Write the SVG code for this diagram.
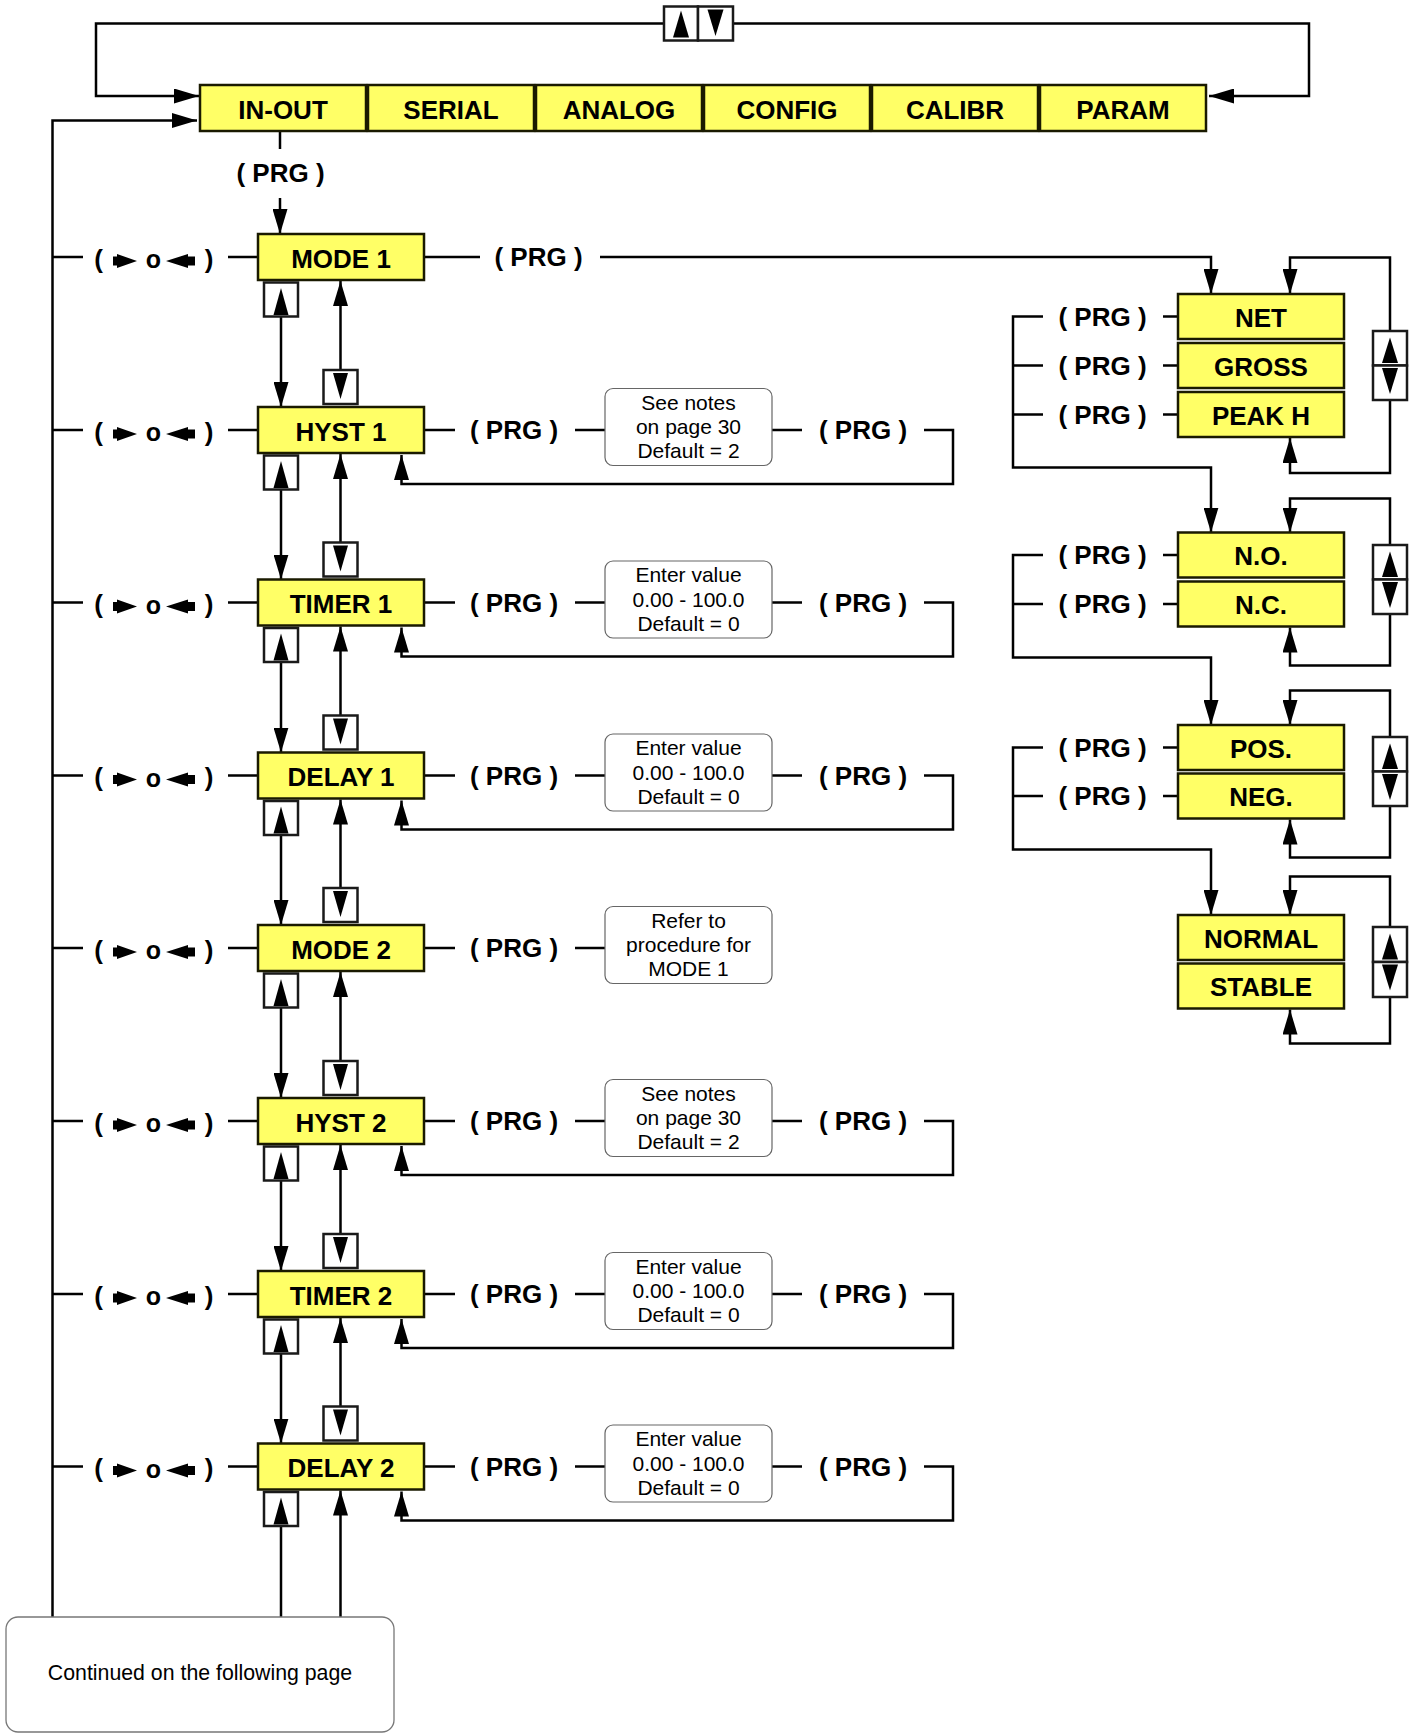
<svg xmlns="http://www.w3.org/2000/svg" width="1416" height="1733" viewBox="0 0 1416 1733">
<style>
.bg{fill:#ffffff}
.node{fill:#ffff66;stroke:#1a1a00;stroke-width:2.5}
.btn{fill:#ffffff;stroke:#1a1a1a;stroke-width:2.5}
.note{fill:#ffffff;stroke:#666666;stroke-width:1.2}
.cont{fill:#ffffff;stroke:#777777;stroke-width:1.3}
.ln{fill:none;stroke:#000000;stroke-width:2.5}
.ar{fill:none;stroke:#000000;stroke-width:2.5;marker-end:url(#ah)}
.tri{fill:#000000}
.lbl{font-family:"Liberation Sans",Arial,sans-serif;font-weight:bold;font-size:26px;text-anchor:middle;fill:#000}
.prg{font-family:"Liberation Sans",Arial,sans-serif;font-weight:bold;font-size:26px;text-anchor:middle;fill:#000}
.sym{font-family:"Liberation Sans",Arial,sans-serif;font-weight:bold;font-size:26px;text-anchor:middle;fill:#000}
.o{font-family:"Liberation Sans",Arial,sans-serif;font-weight:bold;font-size:25px;text-anchor:middle;fill:#000}
.nt{font-family:"Liberation Sans",Arial,sans-serif;font-size:21px;text-anchor:middle;fill:#000}
.ct{font-family:"Liberation Sans",Arial,sans-serif;font-size:21.3px;text-anchor:middle;fill:#000}
</style>
<defs>
<marker id="ah" markerUnits="userSpaceOnUse" markerWidth="25" markerHeight="15" viewBox="0 0 25 15" refX="25" refY="7.5" orient="auto"><path d="M0,0 L25,7.5 L0,15 z" fill="#000"/></marker>
</defs>
<rect class="bg" x="0" y="0" width="1416" height="1733"/>

<g id="connectors">
<path class="ar" d="M664,23.5 H96 V96 H199"/>
<path class="ar" d="M734,23.5 H1309 V96 H1209"/>
<path class="ar" d="M52.5,1617 V120.5 H197"/>
<path class="ln" d="M280,131 V149"/>
<path class="ar" d="M280,198 V234"/>
<path class="ln" d="M52.5,257 H83 M228,257 H258"/>
<path class="ln" d="M52.5,430 H83 M228,430 H258"/>
<path class="ln" d="M52.5,602.5 H83 M228,602.5 H258"/>
<path class="ln" d="M52.5,775.5 H83 M228,775.5 H258"/>
<path class="ln" d="M52.5,948 H83 M228,948 H258"/>
<path class="ln" d="M52.5,1121 H83 M228,1121 H258"/>
<path class="ln" d="M52.5,1294 H83 M228,1294 H258"/>
<path class="ln" d="M52.5,1466.5 H83 M228,1466.5 H258"/>
<path class="ar" d="M281,316.5 V407"/>
<path class="ar" d="M340.5,370 V281"/>
<path class="ar" d="M281,489.5 V579.5"/>
<path class="ar" d="M340.5,542.5 V454"/>
<path class="ar" d="M281,662 V752.5"/>
<path class="ar" d="M340.5,715.5 V626.5"/>
<path class="ar" d="M281,835 V925"/>
<path class="ar" d="M340.5,888 V799.5"/>
<path class="ar" d="M281,1007.5 V1098"/>
<path class="ar" d="M340.5,1061 V972"/>
<path class="ar" d="M281,1180.5 V1271"/>
<path class="ar" d="M340.5,1234 V1145"/>
<path class="ar" d="M281,1353.5 V1443.5"/>
<path class="ar" d="M340.5,1406.5 V1318"/>
<path class="ln" d="M281,1526 V1617"/>
<path class="ar" d="M340.5,1617 V1490.5"/>
<path class="ln" d="M424,257 H480"/>
<path class="ar" d="M600,257 H1211 V294"/>
<path class="ln" d="M424,430 H455 M575,430 H605 M772,430 H802"/>
<path class="ar" d="M924,430 H953 V484 H401.5 V455"/>
<path class="ln" d="M424,602.5 H455 M575,602.5 H605 M772,602.5 H802"/>
<path class="ar" d="M924,602.5 H953 V656.5 H401.5 V627.5"/>
<path class="ln" d="M424,775.5 H455 M575,775.5 H605 M772,775.5 H802"/>
<path class="ar" d="M924,775.5 H953 V829.5 H401.5 V800.5"/>
<path class="ln" d="M424,948 H455 M575,948 H605"/>
<path class="ln" d="M424,1121 H455 M575,1121 H605 M772,1121 H802"/>
<path class="ar" d="M924,1121 H953 V1175 H401.5 V1146"/>
<path class="ln" d="M424,1294 H455 M575,1294 H605 M772,1294 H802"/>
<path class="ar" d="M924,1294 H953 V1348 H401.5 V1319"/>
<path class="ln" d="M424,1466.5 H455 M575,1466.5 H605 M772,1466.5 H802"/>
<path class="ar" d="M924,1466.5 H953 V1520.5 H401.5 V1491.5"/>
<path class="ar" d="M1043,316.5 H1013 V467.5 H1211 V532.5"/>
<path class="ln" d="M1013,365.5 H1043 M1013,414.5 H1043 M1163,316.5 H1178 M1163,365.5 H1178 M1163,414.5 H1178"/>
<path class="ar" d="M1043,555 H1013 V657.5 H1211 V725"/>
<path class="ln" d="M1013,604 H1043 M1163,555 H1178 M1163,604 H1178"/>
<path class="ar" d="M1043,747.5 H1013 V849.5 H1211 V915"/>
<path class="ln" d="M1013,796 H1043 M1163,747.5 H1178 M1163,796 H1178"/>
<path class="ar" d="M1390,331 V257.5 H1290 V294"/>
<path class="ar" d="M1390,400 V473 H1290 V438"/>
<path class="ar" d="M1390,545 V498.5 H1290 V532.5"/>
<path class="ar" d="M1390,614 V665.5 H1290 V627.5"/>
<path class="ar" d="M1390,737 V690.5 H1290 V725"/>
<path class="ar" d="M1390,806 V857.5 H1290 V819.5"/>
<path class="ar" d="M1390,927 V876.5 H1290 V915"/>
<path class="ar" d="M1390,997 V1043.5 H1290 V1009.5"/>
</g>

<g id="top-buttons">
<rect class="btn" x="664" y="6.5" width="34" height="34"/>
<rect class="btn" x="698" y="6.5" width="35" height="34"/>
<polygon class="tri" points="681,10.5 689,37.5 673,37.5"/>
<polygon class="tri" points="715.5,36 723.5,9.5 707.5,9.5"/>
</g>

<g id="menu">
<g id="in-out"><rect class="node" x="200" y="85" width="166" height="46"/><text class="lbl" x="283" y="118.5">IN-OUT</text></g>
<g id="serial"><rect class="node" x="368" y="85" width="166" height="46"/><text class="lbl" x="451" y="118.5">SERIAL</text></g>
<g id="analog"><rect class="node" x="536" y="85" width="166" height="46"/><text class="lbl" x="619" y="118.5">ANALOG</text></g>
<g id="config"><rect class="node" x="704" y="85" width="166" height="46"/><text class="lbl" x="787" y="118.5">CONFIG</text></g>
<g id="calibr"><rect class="node" x="872" y="85" width="166" height="46"/><text class="lbl" x="955" y="118.5">CALIBR</text></g>
<g id="param"><rect class="node" x="1040" y="85" width="166" height="46"/><text class="lbl" x="1123" y="118.5">PARAM</text></g>
</g>
<text class="prg" x="280.5" y="182">( PRG )</text>

<g id="sym-rows">
<g><text class="sym" x="98.5" y="267.5">(</text><polygon class="tri" points="113,256.5 117,256.5 117,254 137,261 117,268 117,265.5 113,265.5"/><text class="o" x="153.5" y="268">o</text><polygon class="tri" points="166,261 188,254 188,256.5 195,256.5 195,265.5 188,265.5 188,268"/><text class="sym" x="209" y="267.5">)</text></g>
<g><text class="sym" x="98.5" y="440.5">(</text><polygon class="tri" points="113,429.5 117,429.5 117,427 137,434 117,441 117,438.5 113,438.5"/><text class="o" x="153.5" y="441">o</text><polygon class="tri" points="166,434 188,427 188,429.5 195,429.5 195,438.5 188,438.5 188,441"/><text class="sym" x="209" y="440.5">)</text></g>
<g><text class="sym" x="98.5" y="613">(</text><polygon class="tri" points="113,602 117,602 117,599.5 137,606.5 117,613.5 117,611 113,611"/><text class="o" x="153.5" y="613.5">o</text><polygon class="tri" points="166,606.5 188,599.5 188,602 195,602 195,611 188,611 188,613.5"/><text class="sym" x="209" y="613">)</text></g>
<g><text class="sym" x="98.5" y="786">(</text><polygon class="tri" points="113,775 117,775 117,772.5 137,779.5 117,786.5 117,784 113,784"/><text class="o" x="153.5" y="786.5">o</text><polygon class="tri" points="166,779.5 188,772.5 188,775 195,775 195,784 188,784 188,786.5"/><text class="sym" x="209" y="786">)</text></g>
<g><text class="sym" x="98.5" y="958.5">(</text><polygon class="tri" points="113,947.5 117,947.5 117,945 137,952 117,959 117,956.5 113,956.5"/><text class="o" x="153.5" y="959">o</text><polygon class="tri" points="166,952 188,945 188,947.5 195,947.5 195,956.5 188,956.5 188,959"/><text class="sym" x="209" y="958.5">)</text></g>
<g><text class="sym" x="98.5" y="1131.5">(</text><polygon class="tri" points="113,1120.5 117,1120.5 117,1118 137,1125 117,1132 117,1129.5 113,1129.5"/><text class="o" x="153.5" y="1132">o</text><polygon class="tri" points="166,1125 188,1118 188,1120.5 195,1120.5 195,1129.5 188,1129.5 188,1132"/><text class="sym" x="209" y="1131.5">)</text></g>
<g><text class="sym" x="98.5" y="1304.5">(</text><polygon class="tri" points="113,1293.5 117,1293.5 117,1291 137,1298 117,1305 117,1302.5 113,1302.5"/><text class="o" x="153.5" y="1305">o</text><polygon class="tri" points="166,1298 188,1291 188,1293.5 195,1293.5 195,1302.5 188,1302.5 188,1305"/><text class="sym" x="209" y="1304.5">)</text></g>
<g><text class="sym" x="98.5" y="1477">(</text><polygon class="tri" points="113,1466 117,1466 117,1463.5 137,1470.5 117,1477.5 117,1475 113,1475"/><text class="o" x="153.5" y="1477.5">o</text><polygon class="tri" points="166,1470.5 188,1463.5 188,1466 195,1466 195,1475 188,1475 188,1477.5"/><text class="sym" x="209" y="1477">)</text></g>
</g>

<g id="col-buttons">
<rect class="btn" x="264" y="282.5" width="34" height="34"/><polygon class="tri" points="281,288 288.5,315 273.5,315"/>
<rect class="btn" x="323.5" y="370" width="34" height="34"/><polygon class="tri" points="340.5,399 348,373 333,373"/>
<rect class="btn" x="264" y="455.5" width="34" height="34"/><polygon class="tri" points="281,461 288.5,488 273.5,488"/>
<rect class="btn" x="323.5" y="542.5" width="34" height="34"/><polygon class="tri" points="340.5,571.5 348,545.5 333,545.5"/>
<rect class="btn" x="264" y="628" width="34" height="34"/><polygon class="tri" points="281,633.5 288.5,660.5 273.5,660.5"/>
<rect class="btn" x="323.5" y="715.5" width="34" height="34"/><polygon class="tri" points="340.5,744.5 348,718.5 333,718.5"/>
<rect class="btn" x="264" y="801" width="34" height="34"/><polygon class="tri" points="281,806.5 288.5,833.5 273.5,833.5"/>
<rect class="btn" x="323.5" y="888" width="34" height="34"/><polygon class="tri" points="340.5,917 348,891 333,891"/>
<rect class="btn" x="264" y="973.5" width="34" height="34"/><polygon class="tri" points="281,979 288.5,1006 273.5,1006"/>
<rect class="btn" x="323.5" y="1061" width="34" height="34"/><polygon class="tri" points="340.5,1090 348,1064 333,1064"/>
<rect class="btn" x="264" y="1146.5" width="34" height="34"/><polygon class="tri" points="281,1152 288.5,1179 273.5,1179"/>
<rect class="btn" x="323.5" y="1234" width="34" height="34"/><polygon class="tri" points="340.5,1263 348,1237 333,1237"/>
<rect class="btn" x="264" y="1319.5" width="34" height="34"/><polygon class="tri" points="281,1325 288.5,1352 273.5,1352"/>
<rect class="btn" x="323.5" y="1406.5" width="34" height="34"/><polygon class="tri" points="340.5,1435.5 348,1409.5 333,1409.5"/>
<rect class="btn" x="264" y="1492" width="34" height="34"/><polygon class="tri" points="281,1497.5 288.5,1524.5 273.5,1524.5"/>
</g>

<g id="mode1"><rect class="node" x="258" y="234" width="166" height="46"/><text class="lbl" x="341" y="267.5">MODE 1</text></g>
<g id="hyst1"><rect class="node" x="258" y="407" width="166" height="46"/><text class="lbl" x="341" y="440.5">HYST 1</text></g>
<g id="timer1"><rect class="node" x="258" y="579.5" width="166" height="46"/><text class="lbl" x="341" y="613">TIMER 1</text></g>
<g id="delay1"><rect class="node" x="258" y="752.5" width="166" height="46"/><text class="lbl" x="341" y="786">DELAY 1</text></g>
<g id="mode2"><rect class="node" x="258" y="925" width="166" height="46"/><text class="lbl" x="341" y="958.5">MODE 2</text></g>
<g id="hyst2"><rect class="node" x="258" y="1098" width="166" height="46"/><text class="lbl" x="341" y="1131.5">HYST 2</text></g>
<g id="timer2"><rect class="node" x="258" y="1271" width="166" height="46"/><text class="lbl" x="341" y="1304.5">TIMER 2</text></g>
<g id="delay2"><rect class="node" x="258" y="1443.5" width="166" height="46"/><text class="lbl" x="341" y="1477">DELAY 2</text></g>

<g id="row-prg">
<text class="prg" x="538.5" y="266">( PRG )</text>
<text class="prg" x="514" y="439">( PRG )</text><text class="prg" x="863" y="439">( PRG )</text>
<text class="prg" x="514" y="611.5">( PRG )</text><text class="prg" x="863" y="611.5">( PRG )</text>
<text class="prg" x="514" y="784.5">( PRG )</text><text class="prg" x="863" y="784.5">( PRG )</text>
<text class="prg" x="514" y="957">( PRG )</text>
<text class="prg" x="514" y="1130">( PRG )</text><text class="prg" x="863" y="1130">( PRG )</text>
<text class="prg" x="514" y="1303">( PRG )</text><text class="prg" x="863" y="1303">( PRG )</text>
<text class="prg" x="514" y="1475.5">( PRG )</text><text class="prg" x="863" y="1475.5">( PRG )</text>
</g>

<g id="note-hyst1"><rect class="note" x="605" y="388.5" width="167" height="77" rx="8"/><text class="nt" x="688.5" y="409.5">See notes</text><text class="nt" x="688.5" y="434">on page 30</text><text class="nt" x="688.5" y="458">Default = 2</text></g>
<g id="note-timer1"><rect class="note" x="605" y="561" width="167" height="77" rx="8"/><text class="nt" x="688.5" y="582">Enter value</text><text class="nt" x="688.5" y="606.5">0.00 - 100.0</text><text class="nt" x="688.5" y="630.5">Default = 0</text></g>
<g id="note-delay1"><rect class="note" x="605" y="734" width="167" height="77" rx="8"/><text class="nt" x="688.5" y="755">Enter value</text><text class="nt" x="688.5" y="779.5">0.00 - 100.0</text><text class="nt" x="688.5" y="803.5">Default = 0</text></g>
<g id="note-mode2"><rect class="note" x="605" y="906.5" width="167" height="77" rx="8"/><text class="nt" x="688.5" y="927.5">Refer to</text><text class="nt" x="688.5" y="952">procedure for</text><text class="nt" x="688.5" y="976">MODE 1</text></g>
<g id="note-hyst2"><rect class="note" x="605" y="1079.5" width="167" height="77" rx="8"/><text class="nt" x="688.5" y="1100.5">See notes</text><text class="nt" x="688.5" y="1125">on page 30</text><text class="nt" x="688.5" y="1149">Default = 2</text></g>
<g id="note-timer2"><rect class="note" x="605" y="1252.5" width="167" height="77" rx="8"/><text class="nt" x="688.5" y="1273.5">Enter value</text><text class="nt" x="688.5" y="1298">0.00 - 100.0</text><text class="nt" x="688.5" y="1322">Default = 0</text></g>
<g id="note-delay2"><rect class="note" x="605" y="1425" width="167" height="77" rx="8"/><text class="nt" x="688.5" y="1446">Enter value</text><text class="nt" x="688.5" y="1470.5">0.00 - 100.0</text><text class="nt" x="688.5" y="1494.5">Default = 0</text></g>

<g id="grp-net">
<rect class="node" x="1178" y="294" width="166" height="45"/><text class="lbl" x="1261" y="326.5">NET</text>
<rect class="node" x="1178" y="343" width="166" height="45"/><text class="lbl" x="1261" y="375.5">GROSS</text>
<rect class="node" x="1178" y="392" width="166" height="45"/><text class="lbl" x="1261" y="424.5">PEAK H</text>
<text class="prg" x="1102.5" y="325.5">( PRG )</text><text class="prg" x="1102.5" y="374.5">( PRG )</text><text class="prg" x="1102.5" y="423.5">( PRG )</text>
<rect class="btn" x="1373" y="331" width="34" height="34.5"/><rect class="btn" x="1373" y="365.5" width="34" height="34.5"/>
<polygon class="tri" points="1390,337.5 1398,363 1382,363"/><polygon class="tri" points="1390,394 1398,368 1382,368"/>
</g>
<g id="grp-no">
<rect class="node" x="1178" y="532.5" width="166" height="45"/><text class="lbl" x="1261" y="565">N.O.</text>
<rect class="node" x="1178" y="581.5" width="166" height="45"/><text class="lbl" x="1261" y="614">N.C.</text>
<text class="prg" x="1102.5" y="564">( PRG )</text><text class="prg" x="1102.5" y="613">( PRG )</text>
<rect class="btn" x="1373" y="545" width="34" height="34.5"/><rect class="btn" x="1373" y="579.5" width="34" height="34.5"/>
<polygon class="tri" points="1390,551.5 1398,577 1382,577"/><polygon class="tri" points="1390,608 1398,582 1382,582"/>
</g>
<g id="grp-pos">
<rect class="node" x="1178" y="725" width="166" height="45"/><text class="lbl" x="1261" y="757.5">POS.</text>
<rect class="node" x="1178" y="773.5" width="166" height="45"/><text class="lbl" x="1261" y="806">NEG.</text>
<text class="prg" x="1102.5" y="756.5">( PRG )</text><text class="prg" x="1102.5" y="805">( PRG )</text>
<rect class="btn" x="1373" y="737" width="34" height="34.5"/><rect class="btn" x="1373" y="771.5" width="34" height="34.5"/>
<polygon class="tri" points="1390,743.5 1398,769 1382,769"/><polygon class="tri" points="1390,800 1398,774 1382,774"/>
</g>
<g id="grp-normal">
<rect class="node" x="1178" y="915" width="166" height="45"/><text class="lbl" x="1261" y="947.5">NORMAL</text>
<rect class="node" x="1178" y="963.5" width="166" height="45"/><text class="lbl" x="1261" y="996">STABLE</text>
<rect class="btn" x="1373" y="927" width="34" height="35"/><rect class="btn" x="1373" y="962" width="34" height="35"/>
<polygon class="tri" points="1390,933.5 1398,959.5 1382,959.5"/><polygon class="tri" points="1390,990.5 1398,964.5 1382,964.5"/>
</g>

<g id="continued">
<rect class="cont" x="6" y="1617" width="388" height="115" rx="12"/>
<text class="ct" x="200" y="1680">Continued on the following page</text>
</g>
</svg>
